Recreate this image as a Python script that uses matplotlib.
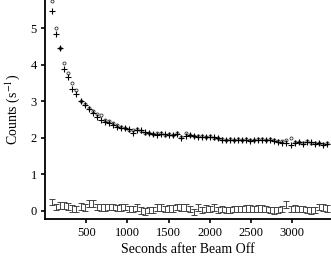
import numpy as np
import matplotlib.pyplot as plt

plt.rcParams['font.family'] = ['Liberation Serif', 'DejaVu Serif']
plt.rcParams['mathtext.fontset'] = 'stix'

# bin centres (s)
t = np.arange(88, 3421, 49)

plus_vals = [5.49, 4.85, 4.45, 3.90, 3.67, 3.35, 3.19, 3.01, 2.90, 2.78,
             2.68, 2.58, 2.50, 2.42, 2.40, 2.35, 2.30, 2.28, 2.26, 2.24,
             2.14, 2.20, 2.20, 2.16, 2.12, 2.10, 2.08, 2.10, 2.09, 2.07,
             2.08, 2.10, 1.99, 2.05, 2.07, 2.04, 2.03, 2.02, 2.03, 2.03,
             2.02, 1.98, 1.95, 1.93, 1.94, 1.95, 1.94, 1.94, 1.93, 1.92,
             1.94, 1.93, 1.95, 1.95, 1.93, 1.92, 1.88, 1.85, 1.86, 1.80,
             1.86, 1.87, 1.83, 1.89, 1.87, 1.83, 1.85, 1.80, 1.83]

circ_vals = [5.74, 5.02, 4.45, 4.04, 3.78, 3.49, 3.31, 3.02, 2.92, 2.82,
             2.72, 2.64, 2.62, 2.50, 2.45, 2.40, 2.36, 2.30, 2.28, 2.22,
             2.20, 2.24, 2.18, 2.14, 2.14, 2.10, 2.12, 2.12, 2.08, 2.10,
             2.08, 2.12, 2.02, 2.12, 2.08, 2.05, 2.04, 2.05, 2.02, 2.05,
             2.00, 1.98, 1.96, 1.95, 1.96, 1.94, 1.96, 1.95, 1.96, 1.94,
             1.95, 1.96, 1.96, 1.94, 1.96, 1.94, 1.92, 1.90, 1.93, 1.98,
             1.88, 1.89, 1.86, 1.90, 1.86, 1.85, 1.86, 1.84, 1.86]

bkg_vals = [0.24, 0.10, 0.14, 0.14, 0.12, 0.06, 0.04, 0.12, 0.08, 0.20,
            0.20, 0.10, 0.08, 0.08, 0.10, 0.10, 0.07, 0.08, 0.10, 0.04,
            0.04, 0.08, 0.00, -0.02, 0.02, 0.02, 0.08, 0.08, 0.04, 0.06,
            0.06, 0.10, 0.08, 0.08, 0.04, -0.04, 0.08, 0.02, 0.06, 0.04,
            0.08, 0.02, 0.04, 0.02, 0.02, 0.04, 0.04, 0.04, 0.06, 0.06,
            0.04, 0.06, 0.06, 0.04, 0.02, 0.00, 0.02, 0.04, 0.16, 0.04,
            0.06, 0.04, 0.04, 0.02, 0.00, 0.02, 0.10, 0.08, 0.06]
bkg_err = 0.09

fig = plt.figure(figsize=(3.31, 2.56), dpi=100)
ax = fig.add_axes([0.136, 0.146, 0.864, 0.854])

ax.plot(t, circ_vals, 'o', ms=2.2, mfc='white', mec='#333333', mew=0.6)
ax.plot(t, plus_vals, '+', ms=4.2, color='black', mew=0.8)
ax.errorbar(t, bkg_vals, yerr=bkg_err, fmt='none', ecolor='#444444',
            elinewidth=0.7, capsize=2.2, capthick=0.7)

ax.set_xlim(0, 3470)
ax.set_ylim(-0.22, 5.78)
ax.set_xticks([500, 1000, 1500, 2000, 2500, 3000])
ax.set_yticks([0, 1, 2, 3, 4, 5])
ax.spines['top'].set_visible(False)
ax.spines['right'].set_visible(False)
for s in ('left', 'bottom'):
    ax.spines[s].set_linewidth(1.3)
ax.tick_params(direction='out', length=3, width=1.2, labelsize=9, pad=3)
ax.set_xlabel('Seconds after Beam Off', fontsize=10, labelpad=3)
ax.set_ylabel('Counts (s$^{-1}$)', fontsize=10, labelpad=6)

fig.savefig('out.png', dpi=100)
